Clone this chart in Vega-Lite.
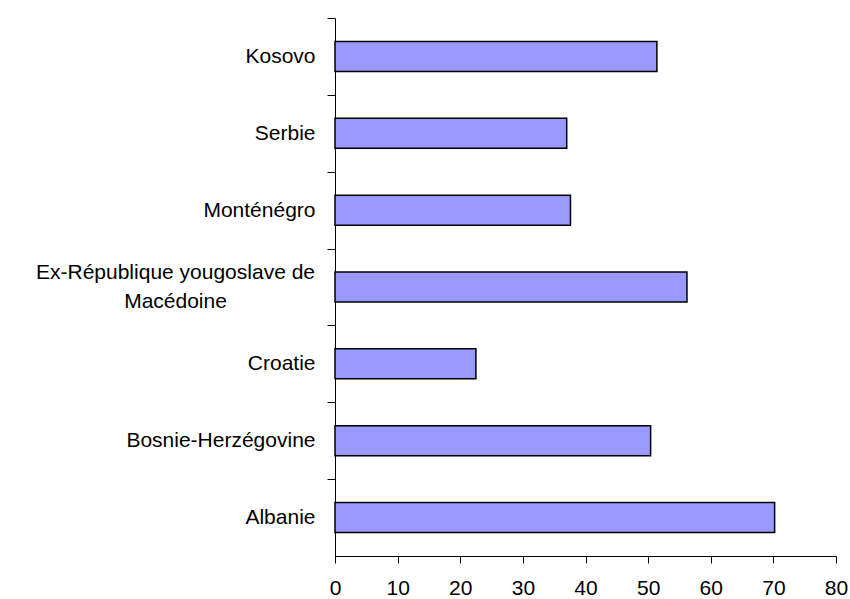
{
  "$schema": "https://vega.github.io/schema/vega-lite/v6.json",
  "width": 501,
  "height": 538,
  "autosize": {"type": "none"},
  "padding": {"left": 335, "top": 18, "right": 14, "bottom": 43},
  "background": "white",
  "config": {"view": {"stroke": null}, "font": "Liberation Sans"},
  "data": {"values": [
    {"pays": "Kosovo", "valeur": 51.4},
    {"pays": "Serbie", "valeur": 37.0},
    {"pays": "Monténégro", "valeur": 37.6},
    {"pays": "Ex-République yougoslave de Macédoine", "valeur": 56.2},
    {"pays": "Croatie", "valeur": 22.5},
    {"pays": "Bosnie-Herzégovine", "valeur": 50.4},
    {"pays": "Albanie", "valeur": 70.2}
  ]},
  "mark": {"type": "bar", "fill": "#9999FF", "stroke": "#000000", "strokeWidth": 1.5},
  "encoding": {
    "y": {
      "field": "pays", "type": "nominal", "sort": null,
      "scale": {"paddingInner": 0.61, "paddingOuter": 0.305},
      "axis": {
        "title": null,
        "domainColor": "#000000",
        "tickColor": "#000000",
        "tickSize": 8,
        "bandPosition": 0,
        "tickOffset": -23.4,
        "labelFont": "Liberation Sans",
        "labelFontSize": 21,
        "labelColor": "#000000",
        "labelLineHeight": 29,
        "labelLimit": 400,
        "labelOffset": {"condition": {"test": "datum.value == 'Ex-République yougoslave de Macédoine'", "value": 8.9}, "value": 23.4},
        "labelExpr": "datum.value == 'Ex-République yougoslave de Macédoine' ? ['Ex-République yougoslave de', 'Macédoine'] : datum.value",
        "labelAlign": {"condition": {"test": "datum.value == 'Ex-République yougoslave de Macédoine'", "value": "center"}, "value": "right"},
        "labelPadding": {"condition": {"test": "datum.value == 'Ex-République yougoslave de Macédoine'", "value": 152}, "value": 12}
      }
    },
    "x": {
      "field": "valeur", "type": "quantitative",
      "scale": {"domain": [0, 80], "nice": false},
      "axis": {
        "title": null,
        "values": [0, 10, 20, 30, 40, 50, 60, 70, 80],
        "grid": false,
        "domainColor": "#000000",
        "tickColor": "#000000",
        "tickSize": 7,
        "labelFont": "Liberation Sans",
        "labelFontSize": 21,
        "labelColor": "#000000",
        "labelPadding": 14,
        "labelFlush": false
      }
    }
  }
}
